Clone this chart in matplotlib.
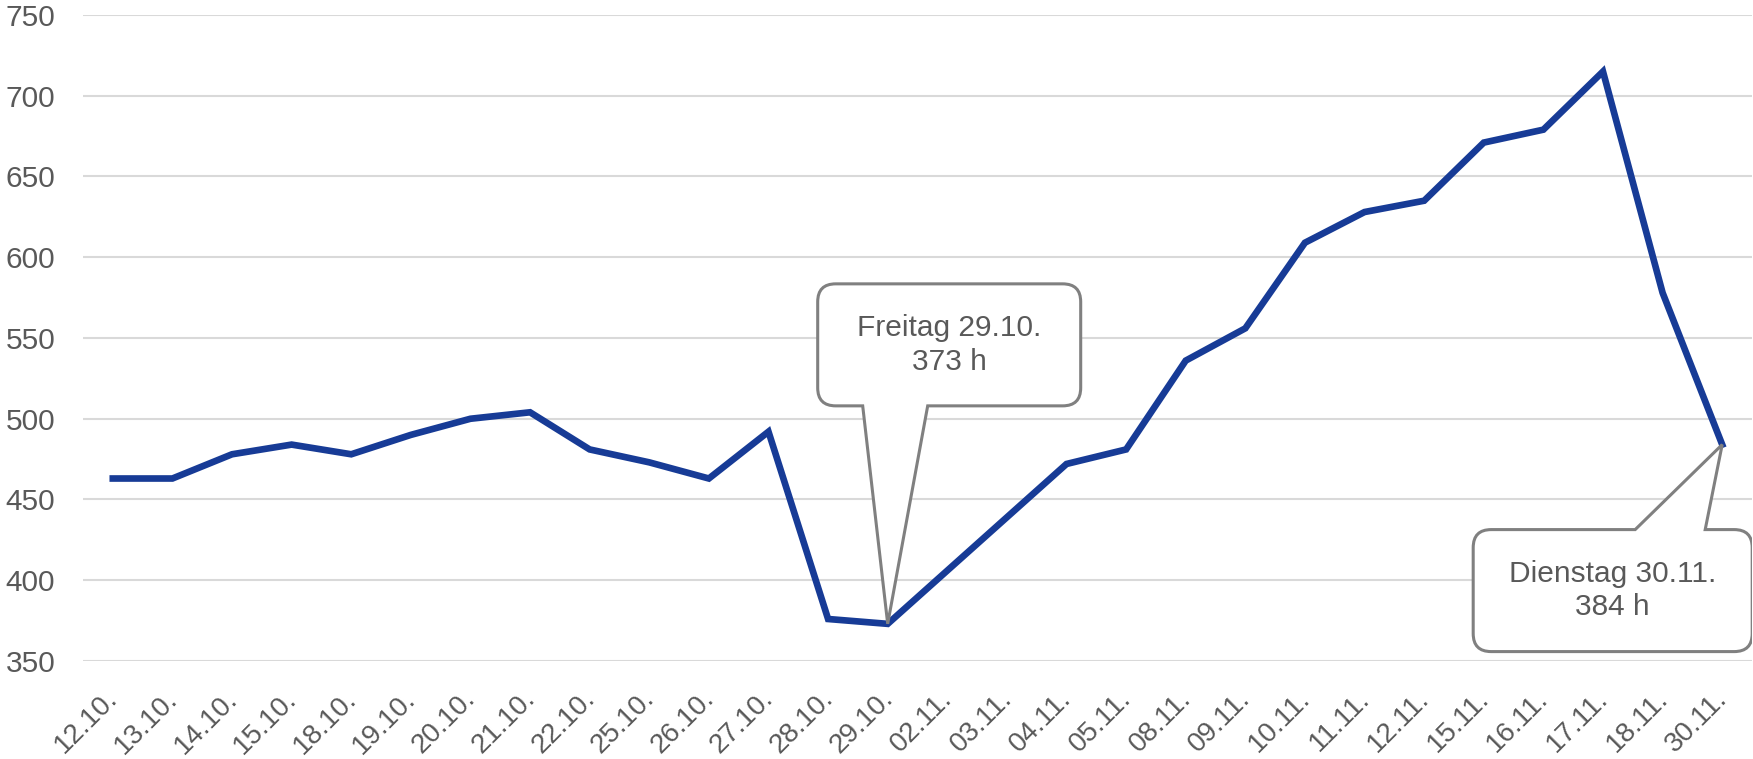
import matplotlib
matplotlib.use("Agg")
import matplotlib.pyplot as plt
import matplotlib.transforms as mtransforms
from matplotlib.path import Path
from matplotlib.patches import PathPatch

# daily values (hours)
dates = ['12.10.', '13.10.', '14.10.', '15.10.', '18.10.', '19.10.', '20.10.',
         '21.10.', '22.10.', '25.10.', '26.10.', '27.10.', '28.10.', '29.10.',
         '02.11.', '03.11.', '04.11.', '05.11.', '08.11.', '09.11.', '10.11.',
         '11.11.', '12.11.', '15.11.', '16.11.', '17.11.', '18.11.', '30.11.']
hours = [463, 463, 478, 484, 478, 490, 500, 504, 481, 473, 463, 492, 376, 373,
         406, 439, 472, 481, 536, 556, 609, 628, 635, 671, 679, 715, 578, 484]
yticks = [350, 400, 450, 500, 550, 600, 650, 700, 750]

callout_idx = [13, 27]
callout_text = ['Freitag 29.10.\n373 h', 'Dienstag 30.11.\n384 h']

plt.rcParams['font.family'] = ['Liberation Sans', 'DejaVu Sans']
TXT = '#595959'
FS = 21.5

fig = plt.figure(figsize=(17.53, 7.59), dpi=100)
ax = fig.add_axes([83 / 1753, 98 / 759, 1669 / 1753, 646 / 759])

x = list(range(len(dates)))
ax.plot(x, hours, color='#173B96', lw=4.8, solid_joinstyle='miter', zorder=3)

ax.set_xlim(-0.5, len(dates) - 0.5)
ax.set_ylim(350, 750)
ax.set_yticks(yticks)
ax.set_xticks(x)
ax.set_xticklabels(dates, rotation=45, ha='right', va='baseline',
                   rotation_mode='anchor', fontsize=20)
ax.tick_params(axis='both', length=0, colors=TXT)
ax.tick_params(axis='y', pad=20, labelsize=FS)
ax.tick_params(axis='x', pad=28)
shift = mtransforms.ScaledTranslation(0.06, 0, fig.dpi_scale_trans)
for lab in ax.get_xticklabels():
    lab.set_transform(lab.get_transform() + shift)
ax.grid(axis='y', color='#D9D9D9', lw=1.5)
ax.set_axisbelow(True)
for s in ax.spines.values():
    s.set_visible(False)


def callout(ax, i, text, box, bases, side, r=18):
    # box = (left, right, near, far) pixel offsets from the data point
    tx, ty = ax.transData.transform((i, hours[i]))
    x0, x1 = tx + box[0], tx + box[1]
    if side == 'bottom':  # box above point, pointer on bottom edge
        yb, yt = ty + box[2], ty + box[3]
    else:  # box below point, pointer on top edge
        yt, yb = ty - box[2], ty - box[3]
    b0, b1 = tx + bases[0], tx + bases[1]
    M, L, C = Path.MOVETO, Path.LINETO, Path.CURVE3
    v, c = [(x0 + r, yt)], [M]
    if side == 'top':
        v += [(b0, yt), (tx, ty), (b1, yt)]
        c += [L, L, L]
    v += [(x1 - r, yt), (x1, yt), (x1, yt - r), (x1, yb + r), (x1, yb), (x1 - r, yb)]
    c += [L, C, C, L, C, C]
    if side == 'bottom':
        v += [(b1, yb), (tx, ty), (b0, yb)]
        c += [L, L, L]
    v += [(x0 + r, yb), (x0, yb), (x0, yb + r), (x0, yt - r), (x0, yt), (x0 + r, yt)]
    c += [L, C, C, L, C, C]
    v.append((x0 + r, yt))
    c.append(Path.CLOSEPOLY)
    patch = PathPatch(Path(v, c), facecolor='white', edgecolor='#808080', lw=2.2,
                      transform=mtransforms.IdentityTransform(), zorder=4,
                      joinstyle='miter')
    ax.add_artist(patch)
    ax.text((x0 + x1) / 2, (yt + yb) / 2, text, ha='center', va='center',
            fontsize=FS, color=TXT, linespacing=1.25,
            transform=mtransforms.IdentityTransform(), zorder=5)


callout(ax, callout_idx[0], callout_text[0], (-70, 193, 218, 340), (-25, 40), 'bottom')
callout(ax, callout_idx[1], callout_text[1], (-249, 30, 85, 207), (-87, -17), 'top')

fig.savefig('out.png', dpi=100)
